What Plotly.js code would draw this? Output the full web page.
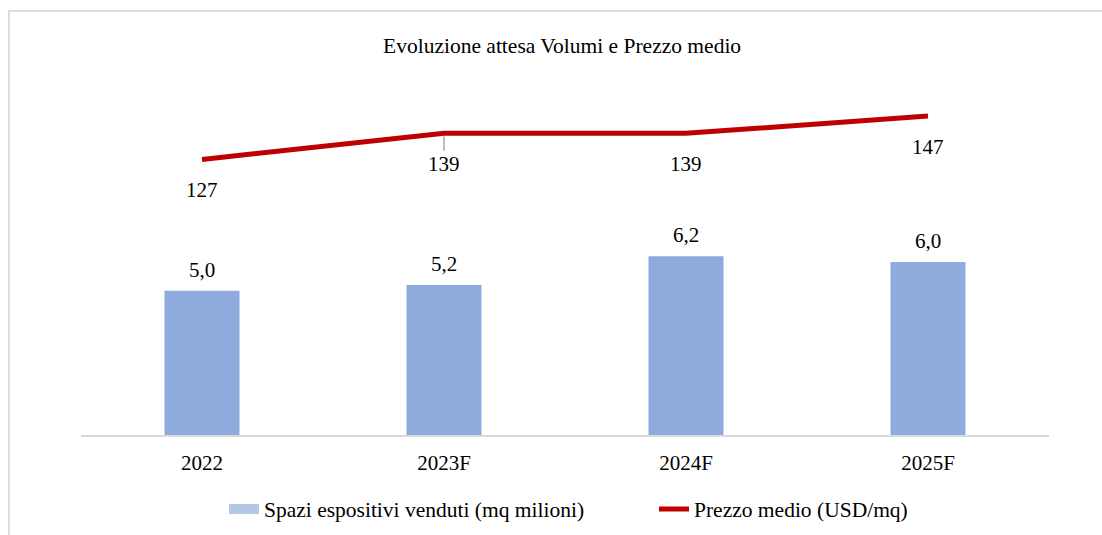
<!DOCTYPE html>
<html>
<head>
<meta charset="utf-8">
<script src="https://cdn.plot.ly/plotly-3.0.1.min.js"></script>
<style>
  html, body { margin: 0; padding: 0; background: #fff; }
  #wrap { position: relative; width: 1102px; height: 535px; overflow: hidden; }
  #chart { width: 1102px; height: 535px; }
  #frame { position: absolute; left: 8px; top: 10px; width: 1200px; height: 700px;
           border-left: 2px solid #dcdcdc; border-top: 2px solid #dcdcdc; pointer-events: none; }
</style>
</head>
<body>
<div id="wrap">
  <div id="chart"></div>
  <div id="frame"></div>
</div>
<script>
// ---- data ----
const categories = ['2022', '2023F', '2024F', '2025F'];
const volumes = [5.0, 5.2, 6.2, 6.0];          // Spazi espositivi venduti (mq milioni)
const prices = [127, 139, 139, 147];           // Prezzo medio (USD/mq)
const priceLeader = [false, true, false, false];
const titleText = 'Evoluzione attesa Volumi e Prezzo medio';
const barName = 'Spazi espositivi venduti (mq milioni)';
const lineName = 'Prezzo medio (USD/mq)';

const FONT = 'Liberation Serif, Times New Roman, serif';
const fmt = v => v.toFixed(1).replace('.', ',');

const traces = [
  {
    type: 'bar', name: barName, x: categories, y: volumes,
    marker: { color: '#8faadc' }, width: 0.31, yaxis: 'y',
    hoverinfo: 'skip', showlegend: false
  },
  {
    // legend-only swatch for the bars (Excel style wide swatch)
    type: 'scatter', mode: 'lines', name: barName, x: [null], y: [null],
    line: { color: '#b4c7e7', width: 10 }, yaxis: 'y', hoverinfo: 'skip'
  },
  {
    type: 'scatter', mode: 'lines', name: lineName, x: categories, y: prices,
    line: { color: '#c00000', width: 5 }, yaxis: 'y2',
    hoverinfo: 'skip'
  }
];

const annotations = [];
categories.forEach((c, i) => {
  annotations.push({
    x: i, y: volumes[i], xref: 'x', yref: 'y', text: fmt(volumes[i]),
    showarrow: false, yanchor: 'middle', yshift: 21,
    font: { family: FONT, size: 21, color: '#000' }
  });
  annotations.push({
    x: i, y: prices[i], xref: 'x', yref: 'y2', text: String(prices[i]),
    showarrow: true, arrowhead: 0, arrowwidth: 1.5, ax: 0, ay: 31, standoff: 3,
    arrowcolor: priceLeader[i] ? '#a6a6a6' : 'rgba(0,0,0,0)',
    font: { family: FONT, size: 21, color: '#000' }
  });
});

const layout = {
  width: 1102, height: 535,
  paper_bgcolor: '#fff', plot_bgcolor: '#fff',
  margin: { l: 81, r: 53, t: 60, b: 100 },
  font: { family: FONT, size: 21, color: '#000' },
  title: {
    text: titleText, font: { family: FONT, size: 21.5, color: '#000' },
    x: 0.497, xref: 'paper', xanchor: 'center',
    y: 1 - 45 / 535, yref: 'container', yanchor: 'middle'
  },
  showlegend: true,
  legend: {
    orientation: 'h', x: (224 - 81) / 968, xanchor: 'left',
    yref: 'container', y: 1 - 509 / 535, yanchor: 'middle',
    entrywidth: 385,
    font: { family: FONT, size: 21.5, color: '#000' }
  },
  xaxis: {
    type: 'category', range: [-0.5, 3.5], showline: true, linecolor: '#d9d9d9', linewidth: 2,
    showgrid: false, zeroline: false, ticks: '', ticklabelstandoff: 8,
    tickfont: { family: FONT, size: 21, color: '#000' }, fixedrange: true
  },
  yaxis: { range: [0, 13.0], visible: false, showgrid: false, zeroline: false, fixedrange: true },
  yaxis2: { range: [0, 172.8], overlaying: 'y', side: 'right', visible: false,
            showgrid: false, zeroline: false, fixedrange: true },
  annotations: annotations
};

Plotly.newPlot('chart', traces, layout, { displayModeBar: false, staticPlot: true });
</script>
</body>
</html>
